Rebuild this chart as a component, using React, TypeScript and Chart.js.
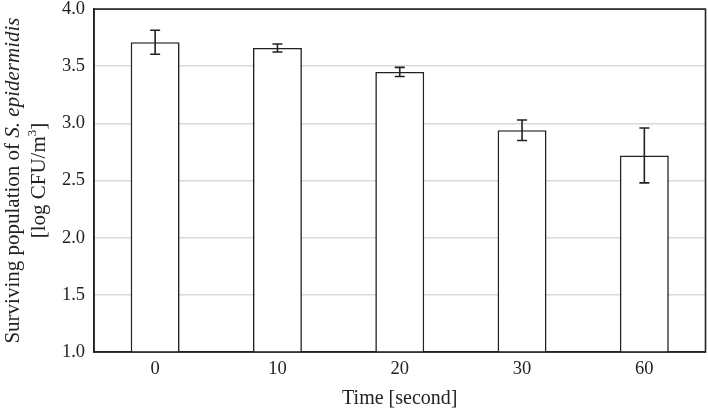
import React, { useEffect, useRef } from "react";
import { Chart, registerables } from "chart.js";

Chart.register(...registerables);

const categories = ["0", "10", "20", "30", "60"];
const survivingLog = [3.71, 3.66, 3.45, 2.94, 2.72];
const errorSD = [0.105, 0.035, 0.04, 0.09, 0.24];
const yTicks = [1.0, 1.5, 2.0, 2.5, 3.0, 3.5, 4.0];

const FONT = "'Liberation Serif', 'Times New Roman', serif";
const INK = "#222222";
const SHIFT = 11;

const errorBarPlugin = {
  id: "errorBars",
  afterDatasetsDraw(chart: any) {
    const ctx = chart.ctx;
    const meta = chart.getDatasetMeta(0);
    const y = chart.scales.y;
    ctx.save();
    ctx.strokeStyle = INK;
    ctx.lineWidth = 1.6;
    meta.data.forEach((bar: any, i: number) => {
      const top = y.getPixelForValue(survivingLog[i] + errorSD[i]);
      const bot = y.getPixelForValue(survivingLog[i] - errorSD[i]);
      const x = bar.x;
      const cap = 5;
      ctx.beginPath();
      ctx.moveTo(x, top);
      ctx.lineTo(x, bot);
      ctx.moveTo(x - cap, top);
      ctx.lineTo(x + cap, top);
      ctx.moveTo(x - cap, bot);
      ctx.lineTo(x + cap, bot);
      ctx.stroke();
    });
    ctx.restore();
  },
};

const frameAndTitlePlugin = {
  id: "frameAndTitle",
  afterDraw(chart: any) {
    const ctx = chart.ctx;
    const a = chart.chartArea;
    ctx.save();
    ctx.strokeStyle = INK;
    ctx.lineWidth = 1.6;
    ctx.strokeRect(a.left, a.top, a.right - a.left, a.bottom - a.top);

    const cy = (a.top + a.bottom) / 2;
    ctx.fillStyle = INK;
    ctx.textBaseline = "middle";
    const size = 21;
    const normal = `${size}px ${FONT}`;
    const italic = `italic ${size}px ${FONT}`;

    const p1 = "Surviving population of ";
    const p2 = "S. epidermidis";
    ctx.font = normal;
    const w1 = ctx.measureText(p1).width;
    ctx.font = italic;
    const w2 = ctx.measureText(p2).width;
    const total1 = w1 + w2;
    ctx.save();
    ctx.translate(13, cy);
    ctx.rotate(-Math.PI / 2);
    ctx.textAlign = "left";
    ctx.font = normal;
    ctx.fillText(p1, -total1 / 2, 0);
    ctx.font = italic;
    ctx.fillText(p2, -total1 / 2 + w1, 0);
    ctx.restore();

    const q1 = "[log CFU/m";
    const q2 = "3";
    const q3 = "]";
    const supFont = `${Math.round(size * 0.62)}px ${FONT}`;
    ctx.font = normal;
    const v1 = ctx.measureText(q1).width;
    const v3 = ctx.measureText(q3).width;
    ctx.font = supFont;
    const v2 = ctx.measureText(q2).width;
    const total2 = v1 + v2 + v3;
    ctx.save();
    ctx.translate(39, cy);
    ctx.rotate(-Math.PI / 2);
    ctx.textAlign = "left";
    ctx.font = normal;
    ctx.fillText(q1, -total2 / 2, 0);
    ctx.font = supFont;
    ctx.fillText(q2, -total2 / 2 + v1, -6);
    ctx.font = normal;
    ctx.fillText(q3, -total2 / 2 + v1 + v2, 0);
    ctx.restore();

    ctx.restore();
  },
};

export default function App() {
  const canvasRef = useRef<HTMLCanvasElement | null>(null);

  useEffect(() => {
    document.body.style.margin = "0";
    const canvas = canvasRef.current;
    if (!canvas) return;
    const chart = new Chart(canvas, {
      type: "bar",
      data: {
        labels: categories,
        datasets: [
          {
            data: survivingLog,
            backgroundColor: "#ffffff",
            borderColor: INK,
            borderWidth: 1.6,
            barPercentage: 0.4,
            categoryPercentage: 1.0,
          },
        ],
      },
      options: {
        animation: false,
        responsive: false,
        maintainAspectRatio: false,
        devicePixelRatio: 1,
        layout: { padding: { top: 0, right: 2.5, left: 0, bottom: 0 } },
        plugins: {
          legend: { display: false },
          tooltip: { enabled: false },
        },
        scales: {
          x: {
            grid: { display: false, drawTicks: false },
            border: { display: true, color: INK, width: 1.6 },
            ticks: {
              color: INK,
              font: { family: FONT, size: 18.5 },
              padding: 6,
            },
            title: {
              display: true,
              text: "Time [second]",
              color: INK,
              font: { family: FONT, size: 20 },
              padding: { top: 2, bottom: 0 },
            },
            afterFit(scale: any) {
              scale.height = 59;
            },
          },
          y: {
            min: 1,
            max: 4,
            afterBuildTicks(scale: any) {
              scale.ticks = yTicks.map((v) => ({ value: v }));
            },
            grid: { color: "#d9d9d9", lineWidth: 1.5, drawTicks: false },
            border: { display: true, color: INK, width: 1.6 },
            ticks: {
              color: INK,
              font: { family: FONT, size: 18.5 },
              padding: 9,
              callback: (v: any) => Number(v).toFixed(1),
            },
            afterFit(scale: any) {
              scale.width = 94;
            },
          },
        },
      },
      plugins: [errorBarPlugin, frameAndTitlePlugin],
    });
    return () => chart.destroy();
  }, []);

  return (
    <div style={{ position: "absolute", left: 0, top: 0, width: 708, height: 411, overflow: "hidden" }}>
      <canvas
        ref={canvasRef}
        width={708}
        height={411 + SHIFT}
        style={{ position: "absolute", left: 0, top: -SHIFT, width: 708, height: 411 + SHIFT }}
      />
    </div>
  );
}
